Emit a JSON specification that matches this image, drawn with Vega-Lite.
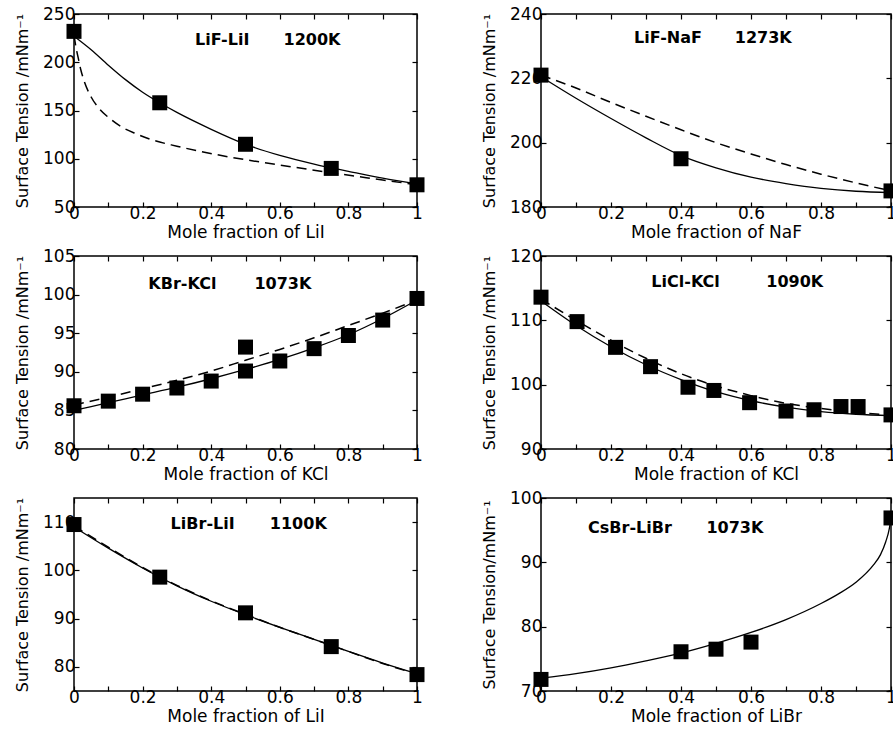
{
"$schema": "https://vega.github.io/schema/vega-lite/v6.json",
"padding": {"left": 13, "top": 4, "right": 0, "bottom": 0},
"background": "white",
"datasets": {
"d": [
{"p":1,"s":"exp","x":0,"y":232},{"p":1,"s":"exp","x":0.25,"y":158},{"p":1,"s":"exp","x":0.5,"y":115},{"p":1,"s":"exp","x":0.75,"y":90},{"p":1,"s":"exp","x":1,"y":73},
{"p":1,"s":"solid","x":0,"y":227},{"p":1,"s":"solid","x":0.05,"y":213},{"p":1,"s":"solid","x":0.1,"y":197},{"p":1,"s":"solid","x":0.15,"y":182},{"p":1,"s":"solid","x":0.2,"y":169},{"p":1,"s":"solid","x":0.25,"y":158},{"p":1,"s":"solid","x":0.3,"y":148},{"p":1,"s":"solid","x":0.4,"y":130.5},{"p":1,"s":"solid","x":0.5,"y":115},{"p":1,"s":"solid","x":0.6,"y":103.5},{"p":1,"s":"solid","x":0.7,"y":94.5},{"p":1,"s":"solid","x":0.75,"y":90.5},{"p":1,"s":"solid","x":0.8,"y":87},{"p":1,"s":"solid","x":0.9,"y":80},{"p":1,"s":"solid","x":1,"y":74},
{"p":1,"s":"dashed","x":0,"y":228},{"p":1,"s":"dashed","x":0.006,"y":215},{"p":1,"s":"dashed","x":0.012,"y":205},{"p":1,"s":"dashed","x":0.02,"y":192},{"p":1,"s":"dashed","x":0.03,"y":180},{"p":1,"s":"dashed","x":0.05,"y":164},{"p":1,"s":"dashed","x":0.076,"y":151},{"p":1,"s":"dashed","x":0.1,"y":143},{"p":1,"s":"dashed","x":0.134,"y":134},{"p":1,"s":"dashed","x":0.18,"y":126},{"p":1,"s":"dashed","x":0.22,"y":120.5},{"p":1,"s":"dashed","x":0.3,"y":113},{"p":1,"s":"dashed","x":0.37,"y":107.5},{"p":1,"s":"dashed","x":0.45,"y":102},{"p":1,"s":"dashed","x":0.5,"y":99},{"p":1,"s":"dashed","x":0.6,"y":93.5},{"p":1,"s":"dashed","x":0.75,"y":85.5},{"p":1,"s":"dashed","x":0.9,"y":78},{"p":1,"s":"dashed","x":1,"y":73},

{"p":2,"s":"exp","x":0,"y":221},{"p":2,"s":"exp","x":0.4,"y":195},{"p":2,"s":"exp","x":1,"y":185},
{"p":2,"s":"solid","x":0,"y":220.5},{"p":2,"s":"solid","x":0.1,"y":213.8},{"p":2,"s":"solid","x":0.2,"y":207.5},{"p":2,"s":"solid","x":0.3,"y":201.5},{"p":2,"s":"solid","x":0.4,"y":196},{"p":2,"s":"solid","x":0.5,"y":192.2},{"p":2,"s":"solid","x":0.6,"y":189.3},{"p":2,"s":"solid","x":0.7,"y":187.3},{"p":2,"s":"solid","x":0.8,"y":185.8},{"p":2,"s":"solid","x":0.9,"y":184.9},{"p":2,"s":"solid","x":1,"y":184.5},
{"p":2,"s":"dashed","x":0,"y":221},{"p":2,"s":"dashed","x":0.1,"y":217},{"p":2,"s":"dashed","x":0.2,"y":212.5},{"p":2,"s":"dashed","x":0.3,"y":208.2},{"p":2,"s":"dashed","x":0.4,"y":204},{"p":2,"s":"dashed","x":0.5,"y":200},{"p":2,"s":"dashed","x":0.6,"y":196.5},{"p":2,"s":"dashed","x":0.7,"y":193.2},{"p":2,"s":"dashed","x":0.8,"y":190.2},{"p":2,"s":"dashed","x":0.9,"y":187.5},{"p":2,"s":"dashed","x":1,"y":185},

{"p":3,"s":"exp","x":0,"y":85.6},{"p":3,"s":"exp","x":0.1,"y":86.2},{"p":3,"s":"exp","x":0.2,"y":87.1},{"p":3,"s":"exp","x":0.3,"y":87.9},{"p":3,"s":"exp","x":0.4,"y":88.8},{"p":3,"s":"exp","x":0.5,"y":90.1},{"p":3,"s":"exp","x":0.5,"y":93.2},{"p":3,"s":"exp","x":0.6,"y":91.4},{"p":3,"s":"exp","x":0.7,"y":93.0},{"p":3,"s":"exp","x":0.8,"y":94.7},{"p":3,"s":"exp","x":0.9,"y":96.7},{"p":3,"s":"exp","x":1,"y":99.5},
{"p":3,"s":"solid","x":0,"y":85},{"p":3,"s":"solid","x":0.1,"y":86},{"p":3,"s":"solid","x":0.2,"y":87},{"p":3,"s":"solid","x":0.3,"y":88},{"p":3,"s":"solid","x":0.4,"y":89.1},{"p":3,"s":"solid","x":0.5,"y":90.3},{"p":3,"s":"solid","x":0.6,"y":91.6},{"p":3,"s":"solid","x":0.7,"y":93.1},{"p":3,"s":"solid","x":0.8,"y":94.8},{"p":3,"s":"solid","x":0.9,"y":96.9},{"p":3,"s":"solid","x":1,"y":99.3},
{"p":3,"s":"dashed","x":0,"y":85.7},{"p":3,"s":"dashed","x":0.1,"y":86.7},{"p":3,"s":"dashed","x":0.2,"y":87.8},{"p":3,"s":"dashed","x":0.3,"y":88.9},{"p":3,"s":"dashed","x":0.4,"y":90.1},{"p":3,"s":"dashed","x":0.5,"y":91.5},{"p":3,"s":"dashed","x":0.6,"y":92.9},{"p":3,"s":"dashed","x":0.7,"y":94.4},{"p":3,"s":"dashed","x":0.8,"y":96.0},{"p":3,"s":"dashed","x":0.9,"y":97.6},{"p":3,"s":"dashed","x":1,"y":99.3},

{"p":4,"s":"exp","x":0,"y":113.6},{"p":4,"s":"exp","x":0.103,"y":109.8},{"p":4,"s":"exp","x":0.213,"y":105.8},{"p":4,"s":"exp","x":0.313,"y":102.8},{"p":4,"s":"exp","x":0.42,"y":99.6},{"p":4,"s":"exp","x":0.494,"y":99.1},{"p":4,"s":"exp","x":0.596,"y":97.2},{"p":4,"s":"exp","x":0.7,"y":95.9},{"p":4,"s":"exp","x":0.78,"y":96.1},{"p":4,"s":"exp","x":0.857,"y":96.6},{"p":4,"s":"exp","x":0.906,"y":96.6},{"p":4,"s":"exp","x":1,"y":95.3},
{"p":4,"s":"solid","x":0,"y":113},{"p":4,"s":"solid","x":0.1,"y":109.2},{"p":4,"s":"solid","x":0.2,"y":105.9},{"p":4,"s":"solid","x":0.3,"y":103.1},{"p":4,"s":"solid","x":0.4,"y":100.8},{"p":4,"s":"solid","x":0.5,"y":98.9},{"p":4,"s":"solid","x":0.6,"y":97.5},{"p":4,"s":"solid","x":0.7,"y":96.5},{"p":4,"s":"solid","x":0.8,"y":95.8},{"p":4,"s":"solid","x":0.9,"y":95.4},{"p":4,"s":"solid","x":1,"y":95.2},
{"p":4,"s":"dashed","x":0,"y":113.3},{"p":4,"s":"dashed","x":0.1,"y":110},{"p":4,"s":"dashed","x":0.2,"y":106.9},{"p":4,"s":"dashed","x":0.3,"y":104.1},{"p":4,"s":"dashed","x":0.4,"y":101.7},{"p":4,"s":"dashed","x":0.5,"y":99.8},{"p":4,"s":"dashed","x":0.6,"y":98.3},{"p":4,"s":"dashed","x":0.7,"y":97.1},{"p":4,"s":"dashed","x":0.8,"y":96.3},{"p":4,"s":"dashed","x":0.9,"y":95.7},{"p":4,"s":"dashed","x":1,"y":95.3},

{"p":5,"s":"exp","x":0,"y":109.5},{"p":5,"s":"exp","x":0.25,"y":98.6},{"p":5,"s":"exp","x":0.5,"y":91.2},{"p":5,"s":"exp","x":0.75,"y":84.2},{"p":5,"s":"exp","x":1,"y":78.4},
{"p":5,"s":"solid","x":0,"y":109},{"p":5,"s":"solid","x":0.1,"y":104.6},{"p":5,"s":"solid","x":0.2,"y":100.5},{"p":5,"s":"solid","x":0.3,"y":96.8},{"p":5,"s":"solid","x":0.4,"y":93.6},{"p":5,"s":"solid","x":0.5,"y":90.8},{"p":5,"s":"solid","x":0.6,"y":88.2},{"p":5,"s":"solid","x":0.7,"y":85.7},{"p":5,"s":"solid","x":0.8,"y":83.2},{"p":5,"s":"solid","x":0.9,"y":80.8},{"p":5,"s":"solid","x":1,"y":78.6},
{"p":5,"s":"dashed","x":0,"y":109.2},{"p":5,"s":"dashed","x":0.1,"y":104.8},{"p":5,"s":"dashed","x":0.2,"y":100.6},{"p":5,"s":"dashed","x":0.3,"y":96.9},{"p":5,"s":"dashed","x":0.4,"y":93.7},{"p":5,"s":"dashed","x":0.5,"y":90.9},{"p":5,"s":"dashed","x":0.6,"y":88.2},{"p":5,"s":"dashed","x":0.7,"y":85.7},{"p":5,"s":"dashed","x":0.8,"y":83.2},{"p":5,"s":"dashed","x":0.9,"y":80.7},{"p":5,"s":"dashed","x":1,"y":78.5},

{"p":6,"s":"exp","x":0,"y":71.8},{"p":6,"s":"exp","x":0.4,"y":76.1},{"p":6,"s":"exp","x":0.5,"y":76.5},{"p":6,"s":"exp","x":0.6,"y":77.6},{"p":6,"s":"exp","x":1,"y":96.9},
{"p":6,"s":"solid","x":0,"y":72},{"p":6,"s":"solid","x":0.1,"y":72.7},{"p":6,"s":"solid","x":0.2,"y":73.6},{"p":6,"s":"solid","x":0.3,"y":74.7},{"p":6,"s":"solid","x":0.4,"y":75.9},{"p":6,"s":"solid","x":0.5,"y":77.4},{"p":6,"s":"solid","x":0.6,"y":79.1},{"p":6,"s":"solid","x":0.7,"y":81.1},{"p":6,"s":"solid","x":0.8,"y":83.6},{"p":6,"s":"solid","x":0.85,"y":85.1},{"p":6,"s":"solid","x":0.9,"y":86.9},{"p":6,"s":"solid","x":0.95,"y":89.6},{"p":6,"s":"solid","x":0.97,"y":91.2},{"p":6,"s":"solid","x":0.985,"y":93.2},{"p":6,"s":"solid","x":0.995,"y":95.2},{"p":6,"s":"solid","x":1,"y":97}
],
"lab": [
{"p":1,"t":"LiF-LiI","x":0.432,"y":222.8},{"p":1,"t":"1200K","x":0.694,"y":222.8},
{"p":2,"t":"LiF-NaF","x":0.363,"y":232.6},{"p":2,"t":"1273K","x":0.635,"y":232.6},
{"p":3,"t":"KBr-KCl","x":0.316,"y":101.4},{"p":3,"t":"1073K","x":0.609,"y":101.4},
{"p":4,"t":"LiCl-KCl","x":0.413,"y":116},{"p":4,"t":"1090K","x":0.725,"y":116},
{"p":5,"t":"LiBr-LiI","x":0.375,"y":109.6},{"p":5,"t":"1100K","x":0.654,"y":109.6},
{"p":6,"t":"CsBr-LiBr","x":0.254,"y":95.4},{"p":6,"t":"1073K","x":0.554,"y":95.4}
]
},
"columns": 2,
"spacing": {"row": 5, "column": 54},
"concat": [
{"width": 343, "height": 193, "resolve": {"axis": {"x": "independent", "y": "independent"}},
 "layer": [
  {"data": {"name": "d"}, "transform": [{"filter": "datum.p == 1 && datum.s == 'solid'"}],
   "mark": {"type": "line", "interpolate": "monotone", "color": "black", "strokeWidth": 1.3},
   "encoding": {"x": {"field": "x", "type": "quantitative", "scale": {"domain": [0, 1], "nice": false}, "axis": {"values": [0,0.1,0.2,0.3,0.4,0.5,0.6,0.7,0.8,0.9,1], "labelExpr": "indexof(['0','0.2','0.4','0.6','0.8','1'], datum.label) >= 0 ? datum.label : ''", "title": "Mole fraction of LiI"}},
                "y": {"field": "y", "type": "quantitative", "scale": {"domain": [50, 250], "nice": false, "zero": false}, "axis": {"values": [50,100,150,200,250], "title": "Surface Tension /mNm⁻¹"}}}},
  {"data": {"name": "d"}, "transform": [{"filter": "datum.p == 1 && datum.s == 'dashed'"}],
   "mark": {"type": "line", "interpolate": "monotone", "color": "black", "strokeWidth": 1.5, "strokeDash": [10, 6]},
   "encoding": {"x": {"field": "x", "type": "quantitative", "scale": {"domain": [0, 1], "nice": false}, "axis": null},
                "y": {"field": "y", "type": "quantitative", "scale": {"domain": [50, 250], "nice": false, "zero": false}, "axis": null}}},
  {"data": {"name": "d"}, "transform": [{"filter": "datum.p == 1 && datum.s == 'exp'"}],
   "mark": {"type": "point", "shape": "square", "filled": true, "size": 225, "color": "black", "opacity": 1},
   "encoding": {"x": {"field": "x", "type": "quantitative", "scale": {"domain": [0, 1], "nice": false}, "axis": {"orient": "top", "labels": false, "title": null, "values": [0,0.1,0.2,0.3,0.4,0.5,0.6,0.7,0.8,0.9,1]}},
                "y": {"field": "y", "type": "quantitative", "scale": {"domain": [50, 250], "nice": false, "zero": false}, "axis": {"orient": "right", "labels": false, "title": null, "values": [50,100,150,200,250]}}}},
  {"data": {"name": "lab"}, "transform": [{"filter": "datum.p == 1"}],
   "mark": {"type": "text", "font": "DejaVu Sans", "fontWeight": "bold", "fontSize": 16, "color": "black"},
   "encoding": {"x": {"field": "x", "type": "quantitative", "scale": {"domain": [0, 1], "nice": false}, "axis": null},
                "y": {"field": "y", "type": "quantitative", "scale": {"domain": [50, 250], "nice": false, "zero": false}, "axis": null},
                "text": {"field": "t"}}}
 ]},
{"width": 350, "height": 193, "resolve": {"axis": {"x": "independent", "y": "independent"}},
 "layer": [
  {"data": {"name": "d"}, "transform": [{"filter": "datum.p == 2 && datum.s == 'solid'"}],
   "mark": {"type": "line", "interpolate": "monotone", "color": "black", "strokeWidth": 1.3},
   "encoding": {"x": {"field": "x", "type": "quantitative", "scale": {"domain": [0, 1], "nice": false}, "axis": {"values": [0,0.1,0.2,0.3,0.4,0.5,0.6,0.7,0.8,0.9,1], "labelExpr": "indexof(['0','0.2','0.4','0.6','0.8','1'], datum.label) >= 0 ? datum.label : ''", "title": "Mole fraction of NaF"}},
                "y": {"field": "y", "type": "quantitative", "scale": {"domain": [180, 240], "nice": false, "zero": false}, "axis": {"values": [180,200,220,240], "title": "Surface Tension /mNm⁻¹"}}}},
  {"data": {"name": "d"}, "transform": [{"filter": "datum.p == 2 && datum.s == 'dashed'"}],
   "mark": {"type": "line", "interpolate": "monotone", "color": "black", "strokeWidth": 1.5, "strokeDash": [10, 6]},
   "encoding": {"x": {"field": "x", "type": "quantitative", "scale": {"domain": [0, 1], "nice": false}, "axis": null},
                "y": {"field": "y", "type": "quantitative", "scale": {"domain": [180, 240], "nice": false, "zero": false}, "axis": null}}},
  {"data": {"name": "d"}, "transform": [{"filter": "datum.p == 2 && datum.s == 'exp'"}],
   "mark": {"type": "point", "shape": "square", "filled": true, "size": 225, "color": "black", "opacity": 1},
   "encoding": {"x": {"field": "x", "type": "quantitative", "scale": {"domain": [0, 1], "nice": false}, "axis": {"orient": "top", "labels": false, "title": null, "values": [0,0.1,0.2,0.3,0.4,0.5,0.6,0.7,0.8,0.9,1]}},
                "y": {"field": "y", "type": "quantitative", "scale": {"domain": [180, 240], "nice": false, "zero": false}, "axis": {"orient": "right", "labels": false, "title": null, "values": [180,200,220,240]}}}},
  {"data": {"name": "lab"}, "transform": [{"filter": "datum.p == 2"}],
   "mark": {"type": "text", "font": "DejaVu Sans", "fontWeight": "bold", "fontSize": 16, "color": "black"},
   "encoding": {"x": {"field": "x", "type": "quantitative", "scale": {"domain": [0, 1], "nice": false}, "axis": null},
                "y": {"field": "y", "type": "quantitative", "scale": {"domain": [180, 240], "nice": false, "zero": false}, "axis": null},
                "text": {"field": "t"}}}
 ]},
{"width": 343, "height": 193, "resolve": {"axis": {"x": "independent", "y": "independent"}},
 "layer": [
  {"data": {"name": "d"}, "transform": [{"filter": "datum.p == 3 && datum.s == 'solid'"}],
   "mark": {"type": "line", "interpolate": "monotone", "color": "black", "strokeWidth": 1.3},
   "encoding": {"x": {"field": "x", "type": "quantitative", "scale": {"domain": [0, 1], "nice": false}, "axis": {"values": [0,0.1,0.2,0.3,0.4,0.5,0.6,0.7,0.8,0.9,1], "labelExpr": "indexof(['0','0.2','0.4','0.6','0.8','1'], datum.label) >= 0 ? datum.label : ''", "title": "Mole fraction of KCl"}},
                "y": {"field": "y", "type": "quantitative", "scale": {"domain": [80, 105], "nice": false, "zero": false}, "axis": {"values": [80,85,90,95,100,105], "title": "Surface Tension /mNm⁻¹"}}}},
  {"data": {"name": "d"}, "transform": [{"filter": "datum.p == 3 && datum.s == 'dashed'"}],
   "mark": {"type": "line", "interpolate": "monotone", "color": "black", "strokeWidth": 1.5, "strokeDash": [10, 6]},
   "encoding": {"x": {"field": "x", "type": "quantitative", "scale": {"domain": [0, 1], "nice": false}, "axis": null},
                "y": {"field": "y", "type": "quantitative", "scale": {"domain": [80, 105], "nice": false, "zero": false}, "axis": null}}},
  {"data": {"name": "d"}, "transform": [{"filter": "datum.p == 3 && datum.s == 'exp'"}],
   "mark": {"type": "point", "shape": "square", "filled": true, "size": 225, "color": "black", "opacity": 1},
   "encoding": {"x": {"field": "x", "type": "quantitative", "scale": {"domain": [0, 1], "nice": false}, "axis": {"orient": "top", "labels": false, "title": null, "values": [0,0.1,0.2,0.3,0.4,0.5,0.6,0.7,0.8,0.9,1]}},
                "y": {"field": "y", "type": "quantitative", "scale": {"domain": [80, 105], "nice": false, "zero": false}, "axis": {"orient": "right", "labels": false, "title": null, "values": [80,85,90,95,100,105]}}}},
  {"data": {"name": "lab"}, "transform": [{"filter": "datum.p == 3"}],
   "mark": {"type": "text", "font": "DejaVu Sans", "fontWeight": "bold", "fontSize": 16, "color": "black"},
   "encoding": {"x": {"field": "x", "type": "quantitative", "scale": {"domain": [0, 1], "nice": false}, "axis": null},
                "y": {"field": "y", "type": "quantitative", "scale": {"domain": [80, 105], "nice": false, "zero": false}, "axis": null},
                "text": {"field": "t"}}}
 ]},
{"width": 350, "height": 193, "resolve": {"axis": {"x": "independent", "y": "independent"}},
 "layer": [
  {"data": {"name": "d"}, "transform": [{"filter": "datum.p == 4 && datum.s == 'solid'"}],
   "mark": {"type": "line", "interpolate": "monotone", "color": "black", "strokeWidth": 1.3},
   "encoding": {"x": {"field": "x", "type": "quantitative", "scale": {"domain": [0, 1], "nice": false}, "axis": {"values": [0,0.1,0.2,0.3,0.4,0.5,0.6,0.7,0.8,0.9,1], "labelExpr": "indexof(['0','0.2','0.4','0.6','0.8','1'], datum.label) >= 0 ? datum.label : ''", "title": "Mole fraction of KCl"}},
                "y": {"field": "y", "type": "quantitative", "scale": {"domain": [90, 120], "nice": false, "zero": false}, "axis": {"values": [90,100,110,120], "title": "Surface Tension /mNm⁻¹"}}}},
  {"data": {"name": "d"}, "transform": [{"filter": "datum.p == 4 && datum.s == 'dashed'"}],
   "mark": {"type": "line", "interpolate": "monotone", "color": "black", "strokeWidth": 1.5, "strokeDash": [10, 6]},
   "encoding": {"x": {"field": "x", "type": "quantitative", "scale": {"domain": [0, 1], "nice": false}, "axis": null},
                "y": {"field": "y", "type": "quantitative", "scale": {"domain": [90, 120], "nice": false, "zero": false}, "axis": null}}},
  {"data": {"name": "d"}, "transform": [{"filter": "datum.p == 4 && datum.s == 'exp'"}],
   "mark": {"type": "point", "shape": "square", "filled": true, "size": 225, "color": "black", "opacity": 1},
   "encoding": {"x": {"field": "x", "type": "quantitative", "scale": {"domain": [0, 1], "nice": false}, "axis": {"orient": "top", "labels": false, "title": null, "values": [0,0.1,0.2,0.3,0.4,0.5,0.6,0.7,0.8,0.9,1]}},
                "y": {"field": "y", "type": "quantitative", "scale": {"domain": [90, 120], "nice": false, "zero": false}, "axis": {"orient": "right", "labels": false, "title": null, "values": [90,100,110,120]}}}},
  {"data": {"name": "lab"}, "transform": [{"filter": "datum.p == 4"}],
   "mark": {"type": "text", "font": "DejaVu Sans", "fontWeight": "bold", "fontSize": 16, "color": "black"},
   "encoding": {"x": {"field": "x", "type": "quantitative", "scale": {"domain": [0, 1], "nice": false}, "axis": null},
                "y": {"field": "y", "type": "quantitative", "scale": {"domain": [90, 120], "nice": false, "zero": false}, "axis": null},
                "text": {"field": "t"}}}
 ]},
{"width": 343, "height": 193, "resolve": {"axis": {"x": "independent", "y": "independent"}},
 "layer": [
  {"data": {"name": "d"}, "transform": [{"filter": "datum.p == 5 && datum.s == 'solid'"}],
   "mark": {"type": "line", "interpolate": "monotone", "color": "black", "strokeWidth": 1.3},
   "encoding": {"x": {"field": "x", "type": "quantitative", "scale": {"domain": [0, 1], "nice": false}, "axis": {"values": [0,0.1,0.2,0.3,0.4,0.5,0.6,0.7,0.8,0.9,1], "labelExpr": "indexof(['0','0.2','0.4','0.6','0.8','1'], datum.label) >= 0 ? datum.label : ''", "title": "Mole fraction of LiI"}},
                "y": {"field": "y", "type": "quantitative", "scale": {"domain": [75, 115], "nice": false, "zero": false}, "axis": {"values": [80,90,100,110], "title": "Surface Tension /mNm⁻¹"}}}},
  {"data": {"name": "d"}, "transform": [{"filter": "datum.p == 5 && datum.s == 'dashed'"}],
   "mark": {"type": "line", "interpolate": "monotone", "color": "black", "strokeWidth": 1.5, "strokeDash": [10, 6]},
   "encoding": {"x": {"field": "x", "type": "quantitative", "scale": {"domain": [0, 1], "nice": false}, "axis": null},
                "y": {"field": "y", "type": "quantitative", "scale": {"domain": [75, 115], "nice": false, "zero": false}, "axis": null}}},
  {"data": {"name": "d"}, "transform": [{"filter": "datum.p == 5 && datum.s == 'exp'"}],
   "mark": {"type": "point", "shape": "square", "filled": true, "size": 225, "color": "black", "opacity": 1},
   "encoding": {"x": {"field": "x", "type": "quantitative", "scale": {"domain": [0, 1], "nice": false}, "axis": {"orient": "top", "labels": false, "title": null, "values": [0,0.1,0.2,0.3,0.4,0.5,0.6,0.7,0.8,0.9,1]}},
                "y": {"field": "y", "type": "quantitative", "scale": {"domain": [75, 115], "nice": false, "zero": false}, "axis": {"orient": "right", "labels": false, "title": null, "values": [80,90,100,110]}}}},
  {"data": {"name": "lab"}, "transform": [{"filter": "datum.p == 5"}],
   "mark": {"type": "text", "font": "DejaVu Sans", "fontWeight": "bold", "fontSize": 16, "color": "black"},
   "encoding": {"x": {"field": "x", "type": "quantitative", "scale": {"domain": [0, 1], "nice": false}, "axis": null},
                "y": {"field": "y", "type": "quantitative", "scale": {"domain": [75, 115], "nice": false, "zero": false}, "axis": null},
                "text": {"field": "t"}}}
 ]},
{"width": 350, "height": 193, "resolve": {"axis": {"x": "independent", "y": "independent"}},
 "layer": [
  {"data": {"name": "d"}, "transform": [{"filter": "datum.p == 6 && datum.s == 'solid'"}],
   "mark": {"type": "line", "interpolate": "monotone", "color": "black", "strokeWidth": 1.3},
   "encoding": {"x": {"field": "x", "type": "quantitative", "scale": {"domain": [0, 1], "nice": false}, "axis": {"values": [0,0.1,0.2,0.3,0.4,0.5,0.6,0.7,0.8,0.9,1], "labelExpr": "indexof(['0','0.2','0.4','0.6','0.8','1'], datum.label) >= 0 ? datum.label : ''", "title": "Mole fraction of LiBr"}},
                "y": {"field": "y", "type": "quantitative", "scale": {"domain": [70, 100], "nice": false, "zero": false}, "axis": {"values": [70,80,90,100], "title": "Surface Tension/mNm⁻¹"}}}},
  {"data": {"name": "d"}, "transform": [{"filter": "datum.p == 6 && datum.s == 'exp'"}],
   "mark": {"type": "point", "shape": "square", "filled": true, "size": 225, "color": "black", "opacity": 1},
   "encoding": {"x": {"field": "x", "type": "quantitative", "scale": {"domain": [0, 1], "nice": false}, "axis": {"orient": "top", "labels": false, "title": null, "values": [0,0.1,0.2,0.3,0.4,0.5,0.6,0.7,0.8,0.9,1]}},
                "y": {"field": "y", "type": "quantitative", "scale": {"domain": [70, 100], "nice": false, "zero": false}, "axis": {"orient": "right", "labels": false, "title": null, "values": [70,80,90,100]}}}},
  {"data": {"name": "lab"}, "transform": [{"filter": "datum.p == 6"}],
   "mark": {"type": "text", "font": "DejaVu Sans", "fontWeight": "bold", "fontSize": 16, "color": "black"},
   "encoding": {"x": {"field": "x", "type": "quantitative", "scale": {"domain": [0, 1], "nice": false}, "axis": null},
                "y": {"field": "y", "type": "quantitative", "scale": {"domain": [70, 100], "nice": false, "zero": false}, "axis": null},
                "text": {"field": "t"}}}
 ]}
],
"config": {
 "font": "DejaVu Sans",
 "view": {"stroke": "black", "strokeWidth": 1.5},
 "axis": {"grid": false, "domain": false, "tickSize": -5, "tickColor": "black", "tickWidth": 1.2, "labelFont": "DejaVu Sans", "labelFontSize": 17, "labelColor": "black", "labelFlush": false, "labelOverlap": false, "titleFont": "DejaVu Sans", "titleFontWeight": "normal", "titleColor": "black", "format": "~r"},
 "axisX": {"labelPadding": 3, "titleFontSize": 17, "titlePadding": 3},
 "axisY": {"labelPadding": 4, "titleFontSize": 16, "titlePadding": 12}
}
}
